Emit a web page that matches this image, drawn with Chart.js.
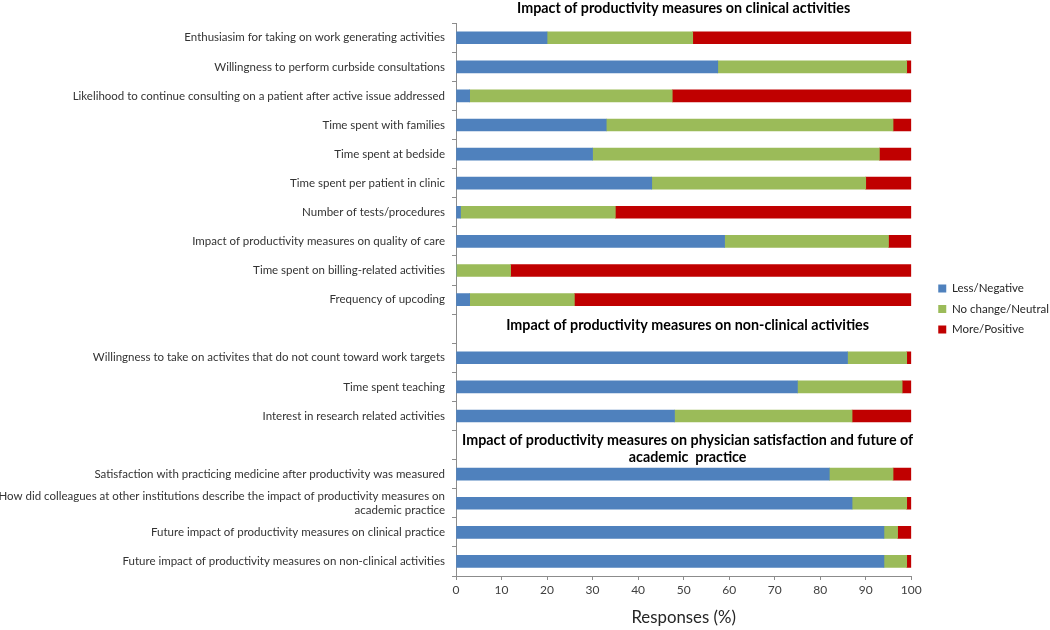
<!DOCTYPE html>
<html>
<head>
<meta charset="utf-8">
<script src="https://cdn.jsdelivr.net/npm/chart.js@4.4.1/dist/chart.umd.min.js"></script>
<style>
  html, body { margin: 0; padding: 0; background: #ffffff; }
  #wrap { width: 1050px; height: 630px; position: relative; }
</style>
</head>
<body>
<div id="wrap"><canvas id="c" width="1050" height="630"></canvas></div>
<script>
// ---- Data ----
const categories = [
  'Enthusiasim for taking on work generating activities',
  'Willingness to perform curbside consultations',
  'Likelihood to continue consulting on a patient after active issue addressed',
  'Time spent with families',
  'Time spent at bedside',
  'Time spent per patient in clinic',
  'Number of tests/procedures',
  'Impact of productivity measures on quality of care',
  'Time spent on billing-related activities',
  'Frequency of upcoding',
  '',
  'Willingness to take on activites that do not count toward work targets',
  'Time spent teaching',
  'Interest in research related activities',
  '',
  'Satisfaction with practicing medicine after productivity was measured',
  ['How did colleagues at other institutions describe the impact of productivity measures on', 'academic practice'],
  'Future impact of productivity measures on clinical practice',
  'Future impact of productivity measures on non-clinical activities'
];
const lessNegative = [20, 57.5, 3, 33, 30, 43, 1, 59, 0, 3, null, 86, 75, 48, null, 82, 87, 94, 94];
const noChangeNeutral = [32, 41.5, 44.5, 63, 63, 47, 34, 36, 12, 23, null, 13, 23, 39, null, 14, 12, 3, 5];
const morePositive = [48, 1, 52.5, 4, 7, 10, 65, 5, 88, 74, null, 1, 2, 13, null, 4, 1, 3, 1];
const seriesNames = ['Less/Negative', 'No change/Neutral', 'More/Positive'];
const chartTitle = 'Impact of productivity measures on clinical activities';
const sectionHeaders = [
  { row: 10, lines: ['Impact of productivity measures on non-clinical activities'] },
  { row: 14, lines: ['Impact of productivity measures on physician satisfaction and future of', 'academic  practice'] }
];
const xTitle = 'Responses (%)';

// ---- Styles ----
const colors = ['#4F81BD', '#9BBB59', '#C00000'];
const FONT = 'Lato, "Open Sans", sans-serif';
const axisColor = '#8c8c8c';

const headerPlugin = {
  id: 'sectionHeaders',
  afterDatasetsDraw(chart) {
    const { ctx, chartArea, scales } = chart;
    const cx = (chartArea.left + chartArea.right) / 2;
    ctx.save();
    ctx.font = 'bold 14.3px ' + FONT;
    ctx.fillStyle = '#000000';
    ctx.textAlign = 'center';
    ctx.textBaseline = 'middle';
    sectionHeaders.forEach(h => {
      const y = scales.y.getPixelForValue(h.row);
      const lh = 17;
      const n = h.lines.length;
      const y0 = y - (n - 1) * lh / 2 + (n > 1 ? 3.5 : -3);
      h.lines.forEach((ln, i) => ctx.fillText(ln, cx + 4, y0 + i * lh));
    });
    ctx.restore();
  }
};

const legendShift = {
  id: 'legendShift',
  afterLayout(chart) {
    const lg = chart.legend;
    if (lg) {
      lg.left += 18; lg.right += 18;
      lg.top -= 6; lg.bottom -= 6;
    }
  }
};

new Chart(document.getElementById('c'), {
  type: 'bar',
  data: {
    labels: categories,
    datasets: [
      { label: seriesNames[0], data: lessNegative, backgroundColor: colors[0] },
      { label: seriesNames[1], data: noChangeNeutral, backgroundColor: colors[1] },
      { label: seriesNames[2], data: morePositive, backgroundColor: colors[2] }
    ]
  },
  options: {
    indexAxis: 'y',
    responsive: false,
    animation: false,
    devicePixelRatio: 1,
    layout: { padding: { left: 0, right: 9, top: 0, bottom: 0 } },
    datasets: { bar: { barThickness: 12, borderWidth: 0 } },
    scales: {
      x: {
        stacked: true,
        min: 0, max: 100,
        ticks: { stepSize: 10, color: '#404040', font: { family: FONT, size: 12 }, padding: 3 },
        grid: { display: true, drawOnChartArea: false, drawTicks: true, tickLength: 4, color: axisColor },
        border: { display: true, color: axisColor },
        title: { display: true, text: xTitle, color: '#262626', font: { family: FONT, size: 16.8 }, padding: { top: 4, bottom: 2 } },
        afterFit(s) { s.height = 54; }
      },
      y: {
        stacked: true,
        ticks: { color: '#333333', font: { family: FONT, size: 11.5 }, padding: 7, autoSkip: false },
        grid: { display: true, drawOnChartArea: false, drawTicks: true, tickLength: 4, offset: true, color: axisColor },
        border: { display: true, color: axisColor },
        afterFit(s) { s.width = 456; }
      }
    },
    plugins: {
      title: {
        display: true, text: chartTitle, fullSize: false, color: '#000000',
        font: { family: FONT, size: 14.3, weight: 'bold' },
        padding: { top: 0, bottom: 6 }
      },
      legend: {
        position: 'right',
        align: 'center',
        labels: {
          boxWidth: 8, boxHeight: 8, padding: 9, color: '#262626',
          font: { family: FONT, size: 11.5 }
        }
      },
      tooltip: { enabled: false }
    }
  },
  plugins: [headerPlugin, legendShift]
});
</script>
</body>
</html>
